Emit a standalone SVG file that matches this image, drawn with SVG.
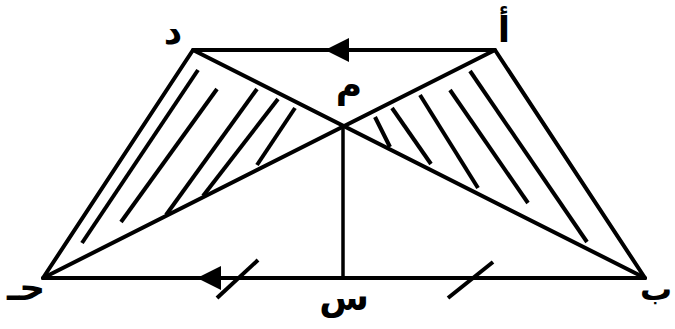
<svg xmlns="http://www.w3.org/2000/svg" xmlns:xlink="http://www.w3.org/1999/xlink" width="675" height="329" viewBox="0 0 675 329">
<style>
.ln{stroke:#000;stroke-width:4;fill:none;stroke-linecap:round;stroke-linejoin:round}
.vt{stroke:#000;stroke-width:3.5;fill:none}
.ht{stroke:#000;stroke-width:4;fill:none;stroke-linecap:butt}
.lb{font-family:"DejaVu Sans","Noto Sans",sans-serif;font-weight:bold;font-size:36px;fill:#000;text-anchor:middle}
</style>
<defs>
<path id="ah" d="M0,0 L24,-12 L24,12 Z" fill="#000"/>
</defs>
<rect width="675" height="329" fill="#fff"/>
<g id="connectors">
<path class="ln" d="M193,50 L495,50 L645,278 L43,278 Z"/>
<line class="ln" x1="193" y1="50" x2="645" y2="278"/>
<line class="ln" x1="495" y1="50" x2="43" y2="278"/>
<line class="vt" x1="343" y1="126" x2="343" y2="278"/>
<use xlink:href="#ah" x="325" y="50"/>
<use xlink:href="#ah" x="197" y="278"/>
<line class="ht" x1="258" y1="260" x2="217" y2="298"/>
<line class="ht" x1="493" y1="262" x2="448" y2="298"/>
</g>
<g id="hatching">
<line class="ht" x1="198" y1="70" x2="82" y2="243"/>
<line class="ht" x1="217" y1="89" x2="121" y2="222"/>
<line class="ht" x1="257" y1="89" x2="166" y2="215"/>
<line class="ht" x1="278" y1="99" x2="203" y2="196"/>
<line class="ht" x1="295" y1="108" x2="257" y2="165"/>
<line class="ht" x1="375" y1="117" x2="390" y2="147"/>
<line class="ht" x1="392" y1="108" x2="431" y2="164"/>
<line class="ht" x1="420" y1="95" x2="478" y2="188"/>
<line class="ht" x1="450" y1="90" x2="528" y2="203"/>
<line class="ht" x1="470" y1="71" x2="587" y2="242"/>
</g>
<g id="node-dal"><text class="lb" x="173" y="44">د</text></g>
<g id="node-alif"><text class="lb" x="504" y="42">أ</text></g>
<g id="node-mim"><text class="lb" x="349" y="97">م</text></g>
<g id="node-ha"><text class="lb" x="26" y="300">حـ</text></g>
<g id="node-sin"><text class="lb" x="344" y="310">س</text></g>
<g id="node-ba"><text class="lb" x="656" y="300" style="font-size:32px">ب</text></g>
</svg>
